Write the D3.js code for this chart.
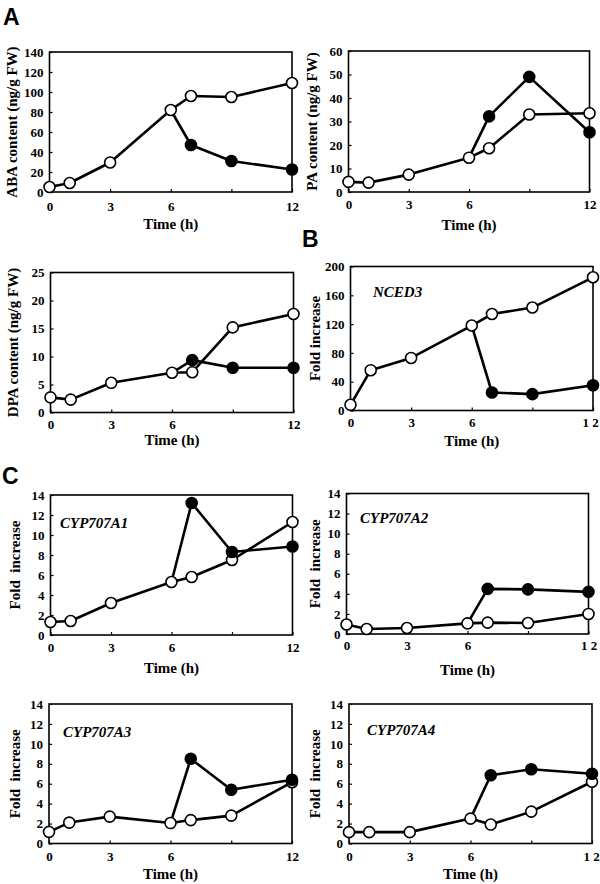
<!DOCTYPE html>
<html><head><meta charset="utf-8">
<script src="https://cdn.jsdelivr.net/npm/d3@7"></script>
<style>
html,body{margin:0;padding:0;background:#fff;}
svg text{font-family:"Liberation Serif","Times New Roman",serif;font-weight:bold;fill:#000;}
</style></head>
<body><svg id="c" width="600" height="884"></svg>
<script>
// ---------- data ----------
const timesWhite = [0, 1, 3, 6, 7, 9, 12];
const timesBlack = [6, 7, 9, 12];
const xTicks = [0, 3, 6, 9, 12];

const abaWhite = [5, 9, 29.5, 82, 96, 95, 109];
const abaBlack = [82, 47, 31, 22.5];
const abaYTicks = [0, 20, 40, 60, 80, 100, 120, 140];

const paWhite = [4.3, 4, 7.4, 14.6, 18.6, 33, 33.5];
const paBlack = [14.6, 32.2, 49, 25.4];
const paYTicks = [0, 10, 20, 30, 40, 50, 60];

const dpaWhite = [2.7, 2.3, 5.3, 7.1, 7.2, 15.2, 17.6];
const dpaBlack = [7.1, 9.35, 8.0, 8.0];
const dpaYTicks = [0, 5, 10, 15, 20, 25];

const ncedWhite = [7.9, 56, 73, 118, 134, 143, 185];
const ncedBlack = [118, 25, 22.7, 35];
const ncedYTicks = [0, 40, 80, 120, 160, 200];

const a1White = [1.3, 1.4, 3.2, 5.3, 5.8, 7.5, 11.3];
const a1Black = [5.3, 13.2, 8.3, 8.85];
const a2White = [0.95, 0.5, 0.6, 1.06, 1.13, 1.1, 2.0];
const a2Black = [1.06, 4.5, 4.45, 4.2];
const a3White = [1.17, 2.1, 2.7, 2.05, 2.35, 2.8, 6.15];
const a3Black = [2.05, 8.5, 5.4, 6.4];
const a4White = [1.14, 1.14, 1.14, 2.5, 1.9, 3.2, 6.2];
const a4Black = [2.5, 6.85, 7.45, 7.0];
const cypYTicks = [0, 2, 4, 6, 8, 10, 12, 14];

const xLabelsA = ["0", "3", "6", "", "12"];
const xLabelsB = ["0", "3", "6", "", "1 2"];

// ---------- layout ----------
const panels = [
  {white: abaWhite, black: abaBlack, yTicks: abaYTicks, xl: xLabelsA, f: [49.5, 292, 52, 192], tdy: 19, ty: 229, yl: "ABA content (ng/g FW)", ylx: 12, gene: null},
  {white: paWhite, black: paBlack, yTicks: paYTicks, xl: xLabelsA, f: [348.5, 589.5, 51, 192], tdy: 17, ty: 230, yl: "PA content (ng/g FW)", ylx: 312, gene: null},
  {white: dpaWhite, black: dpaBlack, yTicks: dpaYTicks, xl: xLabelsA, f: [50.5, 293.5, 272.5, 412.5], tdy: 16, ty: 445, yl: "DPA content (ng/g FW)", ylx: 13, gene: null},
  {white: ncedWhite, black: ncedBlack, yTicks: ncedYTicks, xl: xLabelsB, f: [350.5, 593, 266.5, 410.5], tdy: 16, ty: 446, yl: "Fold increase", ylx: 315, gene: "NCED3", gx: 373, gy: 297, lastDx: -3},
  {white: a1White, black: a1Black, yTicks: cypYTicks, xl: xLabelsA, f: [50.5, 292.5, 495, 635], tdy: 17, ty: 673, yl: "Fold  increase", ylx: 15, gene: "CYP707A1", gx: 60, gy: 528},
  {white: a2White, black: a2Black, yTicks: cypYTicks, xl: xLabelsB, f: [346.5, 588.5, 493.5, 634], tdy: 16, ty: 675, yl: "Fold  increase", ylx: 315, gene: "CYP707A2", gx: 360, gy: 523},
  {white: a3White, black: a3Black, yTicks: cypYTicks, xl: xLabelsA, f: [49, 292, 704, 843.5], tdy: 17, ty: 879, yl: "Fold  increase", ylx: 15, gene: "CYP707A3", gx: 63, gy: 737},
  {white: a4White, black: a4Black, yTicks: cypYTicks, xl: xLabelsB, f: [349, 592, 704, 843.5], tdy: 17, ty: 879, yl: "Fold  increase", ylx: 315, gene: "CYP707A4", gx: 367, gy: 735, lastDx: -1}
];

const svg = d3.select("#c");

panels.forEach(p => {
  const [x0, x1, y0, y1] = p.f;
  const ymax = p.yTicks[p.yTicks.length - 1];
  const x = d3.scaleLinear().domain([0, 12]).range([x0, x1]);
  const y = d3.scaleLinear().domain([0, ymax]).range([y1, y0]);
  const g = svg.append("g");

  // frame
  g.append("rect").attr("x", x0).attr("y", y0).attr("width", x1 - x0).attr("height", y1 - y0)
    .attr("fill", "none").attr("stroke", "#000").attr("stroke-width", 1.6);

  // y axis ticks (inward)
  const yAx = d3.axisLeft(y).tickValues(p.yTicks).tickSizeInner(-3).tickSizeOuter(0).tickPadding(9).tickFormat(d3.format("d"));
  const ya = g.append("g").attr("transform", `translate(${x0},0)`).call(yAx);
  ya.select(".domain").remove();
  ya.selectAll("line").attr("stroke", "#000").attr("stroke-width", 1.2);
  ya.selectAll("text").attr("font-size", 13).attr("font-family", null).attr("x", -6);

  // x axis ticks (inward)
  const xAx = d3.axisBottom(x).tickValues(xTicks).tickSizeInner(-3).tickSizeOuter(0).tickFormat((d, i) => p.xl[i]);
  const xa = g.append("g").attr("transform", `translate(0,${y1})`).call(xAx);
  xa.select(".domain").remove();
  xa.selectAll("line").attr("stroke", "#000").attr("stroke-width", 1.2);
  xa.selectAll("text").attr("font-size", 13).attr("font-family", null).attr("dy", null).attr("y", p.tdy)
    .style("white-space", "pre")
    .attr("dx", (d, i) => (i === xTicks.length - 1 && p.lastDx) ? p.lastDx : 0);

  // titles
  g.append("text").attr("x", (x0 + x1) / 2).attr("y", p.ty).attr("text-anchor", "middle")
    .attr("font-size", 15).text("Time (h)");
  g.append("text").attr("transform", `translate(${p.ylx},${(y0 + y1) / 2}) rotate(-90)`)
    .attr("text-anchor", "middle").attr("dy", "0.35em").attr("font-size", 15)
    .style("white-space", "pre").text(p.yl);
  if (p.gene) {
    g.append("text").attr("x", p.gx).attr("y", p.gy).attr("font-size", 15)
      .attr("font-style", "italic").text(p.gene);
  }

  const line = d3.line().x(d => x(d[0])).y(d => y(d[1]));
  const wd = timesWhite.map((t, i) => [t, p.white[i]]);
  const bd = timesBlack.map((t, i) => [t, p.black[i]]);

  g.append("path").datum(wd).attr("d", line).attr("fill", "none").attr("stroke", "#000").attr("stroke-width", 2.6).attr("stroke-linejoin", "round");
  g.append("path").datum(bd).attr("d", line).attr("fill", "none").attr("stroke", "#000").attr("stroke-width", 2.6).attr("stroke-linejoin", "round");

  g.selectAll("circle.w").data(wd).enter().append("circle").attr("class", "w")
    .attr("cx", d => x(d[0])).attr("cy", d => y(d[1])).attr("r", 5.5)
    .attr("fill", "#fff").attr("stroke", "#000").attr("stroke-width", 1.6);
  g.selectAll("circle.b").data(bd.slice(1)).enter().append("circle").attr("class", "b")
    .attr("cx", d => x(d[0])).attr("cy", d => y(d[1])).attr("r", 5.5)
    .attr("fill", "#000").attr("stroke", "#000").attr("stroke-width", 1.6);
});

// panel letters
const letters = [{t: "A", x: 3, y: 25}, {t: "B", x: 302, y: 247}, {t: "C", x: 2, y: 484}];
svg.selectAll("text.letter").data(letters).enter().append("text").attr("class", "letter")
  .attr("x", d => d.x).attr("y", d => d.y).attr("font-size", 23)
  .style("font-family", "'Liberation Sans', Arial, sans-serif").text(d => d.t);
</script></body></html>
